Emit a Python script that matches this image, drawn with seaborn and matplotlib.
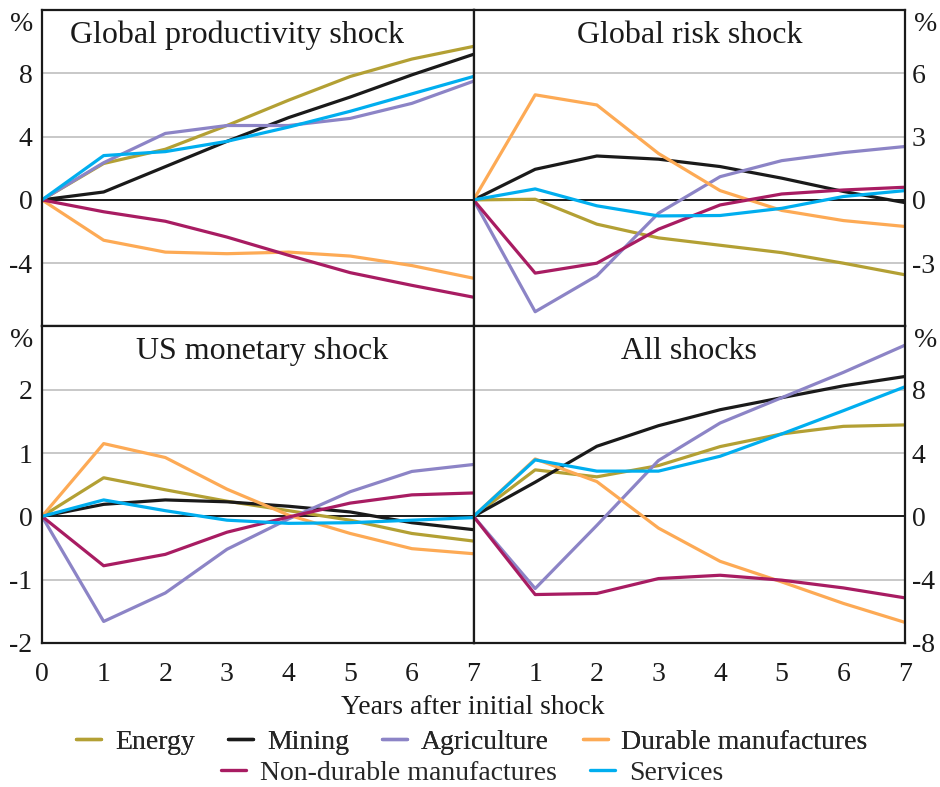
import matplotlib
matplotlib.use("Agg")
import matplotlib.pyplot as plt
from matplotlib.lines import Line2D
import matplotlib.transforms as mtransforms
import numpy as np
import pandas as pd
import seaborn as sns

sns.set_theme(style="white")
plt.rcParams['font.family'] = ['Liberation Serif', 'DejaVu Serif']

# ─── DATA ──────────────────────────────────────────────────────────────────
YEARS = [0, 1, 2, 3, 4, 5, 6, 7]
SECTORS = ["Energy", "Mining", "Agriculture", "Durable manufactures",
           "Non-durable manufactures", "Services"]
COLORS = ["#b3a034", "#1a1a1a", "#8c84c6", "#fdaa55", "#a81c62", "#00aeef"]

# Global productivity shock
prod_energy = [0, 2.3, 3.2, 4.7, 6.3, 7.8, 8.9, 9.7]
prod_mining = [0, 0.5, 2.1, 3.7, 5.2, 6.5, 7.9, 9.2]
prod_agri = [0, 2.35, 4.2, 4.7, 4.7, 5.15, 6.1, 7.5]
prod_durable = [0, -2.55, -3.3, -3.4, -3.3, -3.55, -4.15, -4.95]
prod_nondurable = [0, -0.75, -1.35, -2.35, -3.5, -4.6, -5.4, -6.15]
prod_services = [0, 2.8, 3.05, 3.7, 4.6, 5.6, 6.7, 7.8]

# Global risk shock
risk_energy = [0, 0.03, -1.15, -1.8, -2.15, -2.5, -3.0, -3.55]
risk_mining = [0, 1.45, 2.08, 1.93, 1.58, 1.03, 0.4, -0.13]
risk_agri = [0, -5.3, -3.6, -0.63, 1.1, 1.86, 2.24, 2.53]
risk_durable = [0, 4.98, 4.5, 2.2, 0.44, -0.5, -0.98, -1.26]
risk_nondurable = [0, -3.47, -3.0, -1.39, -0.24, 0.28, 0.47, 0.6]
risk_services = [0, 0.52, -0.28, -0.76, -0.74, -0.4, 0.16, 0.44]

# US monetary shock
us_energy = [0, 0.61, 0.42, 0.24, 0.09, -0.06, -0.27, -0.39]
us_mining = [0, 0.19, 0.26, 0.23, 0.16, 0.07, -0.1, -0.21]
us_agri = [0, -1.66, -1.21, -0.52, -0.04, 0.39, 0.71, 0.82]
us_durable = [0, 1.15, 0.93, 0.43, 0.02, -0.27, -0.51, -0.59]
us_nondurable = [0, -0.78, -0.6, -0.25, -0.01, 0.21, 0.34, 0.37]
us_services = [0, 0.26, 0.09, -0.06, -0.11, -0.1, -0.06, -0.02]

# All shocks
all_energy = [0, 2.94, 2.5, 3.21, 4.41, 5.21, 5.69, 5.78]
all_mining = [0, 2.16, 4.43, 5.73, 6.74, 7.5, 8.25, 8.84]
all_agri = [0, -4.56, -0.57, 3.53, 5.9, 7.5, 9.1, 10.82]
all_durable = [0, 3.63, 2.2, -0.74, -2.84, -4.14, -5.5, -6.7]
all_nondurable = [0, -4.94, -4.87, -3.93, -3.72, -4.03, -4.52, -5.15]
all_services = [0, 3.57, 2.86, 2.86, 3.8, 5.21, 6.68, 8.19]

PANELS = [
    ("Global productivity shock", [prod_energy, prod_mining, prod_agri, prod_durable, prod_nondurable, prod_services]),
    ("Global risk shock", [risk_energy, risk_mining, risk_agri, risk_durable, risk_nondurable, risk_services]),
    ("US monetary shock", [us_energy, us_mining, us_agri, us_durable, us_nondurable, us_services]),
    ("All shocks", [all_energy, all_mining, all_agri, all_durable, all_nondurable, all_services]),
]
YLIMS = [(-8, 12), (-6, 9), (-2, 3), (-8, 12)]
YTICKS = [[-8, -4, 0, 4, 8], [-3, 0, 3, 6], [-2, -1, 0, 1, 2], [-8, -4, 0, 4, 8]]
YTICKLABELS = [["", "-4", "0", "4", "8"], ["-3", "0", "3", "6"],
               ["-2", "-1", "0", "1", "2"], ["-8", "-4", "0", "4", "8"]]
TITLE_X = [0.452, 0.5, 0.51, 0.5]

palette = dict(zip(SECTORS, COLORS))

# ─── FIGURE ────────────────────────────────────────────────────────────────
fig, axes = plt.subplots(2, 2, figsize=(9.4, 7.87), dpi=100)
fig.subplots_adjust(left=0.0447, right=0.9628, top=0.9873, bottom=0.183,
                    wspace=0, hspace=0)

for i, ax in enumerate(axes.flat):
    title, series = PANELS[i]
    rows = []
    for name, vals in zip(SECTORS, series):
        for yr, v in zip(YEARS, vals):
            rows.append({"year": yr, "value": v, "sector": name})
    df = pd.DataFrame(rows)

    for y in YTICKS[i]:
        if y != 0:
            ax.axhline(y, color="#c4c4c4", lw=1.3, zorder=0)
    ax.axhline(0, color="#1a1a1a", lw=1.4, zorder=1)

    sns.lineplot(data=df, x="year", y="value", hue="sector", hue_order=SECTORS,
                 palette=palette, lw=2.3, legend=False, ax=ax, zorder=2)

    ax.set_xlim(0, 7)
    ax.set_ylim(*YLIMS[i])
    ax.set_yticks(YTICKS[i])
    ax.set_yticklabels(YTICKLABELS[i])
    ax.set_xlabel("")
    ax.set_ylabel("")
    ax.grid(False)
    for s in ax.spines.values():
        s.set_color("#1a1a1a")
        s.set_linewidth(1.6)

    right = i % 2 == 1
    bottom = i >= 2
    ax.tick_params(axis="y", length=0, labelsize=20, colors="#1a1a1a",
                   labelleft=not right, labelright=right,
                   pad=5 if right else 7)
    if bottom:
        ax.set_xticks(YEARS)
        ax.set_xticklabels([str(y) for y in YEARS] if not right
                           else [""] + [str(y) for y in YEARS[1:]])
        ax.tick_params(axis="x", direction="in", length=12, width=1.3,
                       labelsize=20, pad=14, colors="#1a1a1a")
    else:
        ax.set_xticks([])

    ax.text(TITLE_X[i], 1 - 25 / 316, title, transform=ax.transAxes,
            ha="center", va="center", fontsize=23, color="#1a1a1a")

    trans = mtransforms.blended_transform_factory(fig.transFigure, ax.transAxes)
    px = 926 / 940 if right else 22 / 940
    ax.text(px, 0.995, "%", transform=trans, ha="center", va="top",
            fontsize=20, color="#1a1a1a")

fig.text(0.503, 1 - 708 / 787, "Years after initial shock", ha="center",
         va="center", fontsize=20, color="#1a1a1a")

handles = [Line2D([], [], color=c, lw=2.4) for c in COLORS]
leg_kw = dict(loc="center", frameon=False, fontsize=20, handlelength=0.9,
              handletextpad=0.5, columnspacing=1.2, borderpad=0,
              borderaxespad=0)
leg1 = fig.legend(handles[:4], SECTORS[:4], ncol=4,
                  bbox_to_anchor=(0.502, 1 - 742 / 787), **leg_kw)
leg2 = fig.legend(handles[4:], SECTORS[4:], ncol=2,
                  bbox_to_anchor=(0.502, 1 - 773 / 787), **leg_kw)
fig.add_artist(leg1)

fig.savefig("out.png", dpi=100)
